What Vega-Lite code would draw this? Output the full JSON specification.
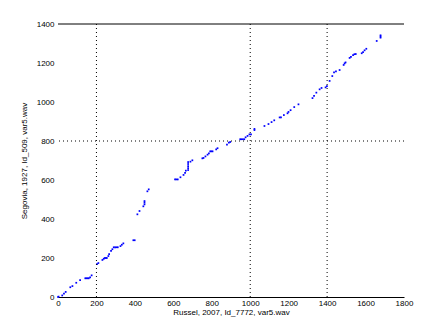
{
  "$schema": "https://vega.github.io/schema/vega-lite/v6.json",
  "width": 346,
  "height": 273,
  "autosize": {"type": "none"},
  "padding": {"left": 58, "top": 24, "right": 43, "bottom": 38},
  "background": "white",
  "config": {
    "view": {"stroke": null},
    "font": "Liberation Sans",
    "axis": {"labelFont": "Liberation Sans", "titleFont": "Liberation Sans", "labelFontSize": 8, "titleFontSize": 8, "titleFontWeight": "normal", "labelColor": "black", "titleColor": "black", "grid": false, "ticks": false, "labelOverlap": false, "labelFlush": false, "format": "d"},
    "axisX": {"values": [0,200,400,600,800,1000,1200,1400,1600,1800], "domainColor": "black", "domainWidth": 1, "labelPadding": 2, "titlePadding": 1},
    "axisY": {"values": [0,200,400,600,800,1000,1200,1400], "domain": false, "labelPadding": 4, "titlePadding": 8}
  },
  "datasets": {
    "pts": [
      {"x":0,"y":0},{"x":3,"y":2},{"x":22,"y":8},{"x":31,"y":17},{"x":40,"y":26},{"x":64,"y":50},{"x":75,"y":56},{"x":95,"y":73},{"x":115,"y":87},{"x":142,"y":96},{"x":148,"y":96},{"x":154,"y":96},{"x":160,"y":96},{"x":167,"y":101},{"x":175,"y":111},{"x":203,"y":168},{"x":210,"y":174},{"x":231,"y":190},{"x":238,"y":196},{"x":243,"y":200},{"x":249,"y":200},{"x":254,"y":200},{"x":262,"y":210},{"x":266,"y":220},{"x":276,"y":236},{"x":283,"y":245},{"x":290,"y":255},{"x":297,"y":255},{"x":304,"y":255},{"x":311,"y":255},{"x":325,"y":261},{"x":332,"y":268},{"x":340,"y":275},{"x":392,"y":291},{"x":399,"y":291},
      {"x":413,"y":424},{"x":424,"y":441},{"x":444,"y":465},{"x":450,"y":475},{"x":450,"y":484},{"x":450,"y":492},{"x":465,"y":542},{"x":472,"y":552},
      {"x":609,"y":603},{"x":616,"y":603},{"x":623,"y":603},{"x":637,"y":614},{"x":653,"y":626},{"x":661,"y":637},{"x":665,"y":648},{"x":677,"y":651},{"x":677,"y":661},{"x":677,"y":671},{"x":677,"y":682},{"x":677,"y":692},{"x":689,"y":694},{"x":699,"y":701},{"x":751,"y":711},{"x":757,"y":713},{"x":767,"y":721},{"x":778,"y":730},{"x":785,"y":737},{"x":792,"y":747},{"x":798,"y":747},{"x":804,"y":747},{"x":823,"y":757},{"x":830,"y":763},{"x":879,"y":782},{"x":889,"y":792},{"x":896,"y":795},{"x":948,"y":809},{"x":955,"y":809},{"x":962,"y":809},{"x":969,"y":809},{"x":976,"y":819},{"x":986,"y":826},{"x":996,"y":834},{"x":1004,"y":834},{"x":1022,"y":856},{"x":1022,"y":862},{"x":1074,"y":877},{"x":1095,"y":887},{"x":1111,"y":897},{"x":1125,"y":906},{"x":1153,"y":921},{"x":1160,"y":921},{"x":1175,"y":933},{"x":1194,"y":942},{"x":1199,"y":949},{"x":1210,"y":958},{"x":1229,"y":974},{"x":1251,"y":988},{"x":1324,"y":1020},{"x":1332,"y":1031},{"x":1344,"y":1048},{"x":1361,"y":1065},{"x":1371,"y":1072},{"x":1392,"y":1075},{"x":1399,"y":1082},{"x":1413,"y":1108},{"x":1427,"y":1133},{"x":1436,"y":1152},{"x":1446,"y":1157},{"x":1465,"y":1164},{"x":1486,"y":1190},{"x":1491,"y":1198},{"x":1496,"y":1203},{"x":1517,"y":1226},{"x":1524,"y":1231},{"x":1535,"y":1240},{"x":1542,"y":1245},{"x":1549,"y":1246},{"x":1580,"y":1250},{"x":1587,"y":1256},{"x":1595,"y":1265},{"x":1604,"y":1273},{"x":1658,"y":1313},{"x":1678,"y":1330},{"x":1678,"y":1336},{"x":1678,"y":1342}
    ],
    "vlines": [{"x":200},{"x":1000},{"x":1400}],
    "hlines": [{"y":800}],
    "top": [{"y":1400}]
  },
  "layer": [
    {
      "data": {"name": "pts"},
      "mark": {"type": "square", "color": "#0000ff", "opacity": 1, "size": 3},
      "encoding": {
        "x": {"field": "x", "type": "quantitative", "scale": {"domain": [0, 1800], "nice": false}, "title": "Russel, 2007, Id_7772, var5.wav"},
        "y": {"field": "y", "type": "quantitative", "scale": {"domain": [0, 1400], "nice": false}, "title": "Segovia, 1927, Id_509, var5.wav"}
      }
    },
    {
      "data": {"name": "vlines"},
      "mark": {"type": "rule", "color": "black", "strokeWidth": 1, "strokeDash": [1, 3]},
      "encoding": {"x": {"field": "x", "type": "quantitative", "title": "Russel, 2007, Id_7772, var5.wav"}}
    },
    {
      "data": {"name": "hlines"},
      "mark": {"type": "rule", "color": "black", "strokeWidth": 1, "strokeDash": [1, 3]},
      "encoding": {"y": {"field": "y", "type": "quantitative", "title": "Segovia, 1927, Id_509, var5.wav"}}
    },
    {
      "data": {"name": "top"},
      "mark": {"type": "rule", "color": "black", "strokeWidth": 1},
      "encoding": {"y": {"field": "y", "type": "quantitative", "title": "Segovia, 1927, Id_509, var5.wav"}}
    }
  ]
}
